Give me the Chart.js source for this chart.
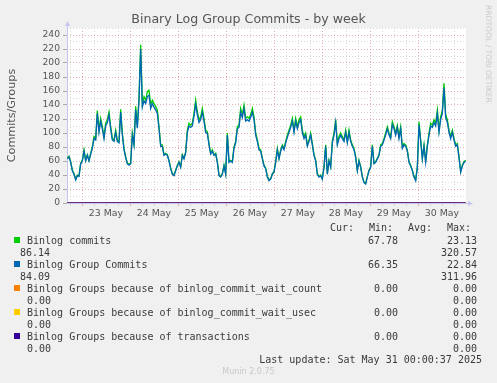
<!DOCTYPE html>
<html lang="en">
<head>
    <meta charset="UTF-8">
    <title>Binary Log Group Commits - by week</title>
    <script src="https://cdn.jsdelivr.net/npm/chart.js"></script>
    <style>
        body {
            margin: 0;
            background: #f0f0f0;
        }

        #wrap {
            position: relative;
            width: 497px;
            height: 383px;
            overflow: hidden;
            font-family: 'DejaVu Sans', sans-serif;
        }

        #chart {
            position: absolute;
            left: 0;
            top: 0;
        }

        .txt {
            position: absolute;
            white-space: pre;
            line-height: 12px;
        }

        .mono {
            font-family: 'DejaVu Sans Mono', monospace;
            font-size: 10px;
            color: #3a3a3a;
        }

        .swatch {
            position: absolute;
            width: 6px;
            height: 6px;
        }

        #title {
            left: 0;
            width: 497px;
            top: 11px;
            text-align: center;
            font-size: 12.6px;
            line-height: 16px;
            color: #555;
        }

        #rrd {
            left: 488px;
            top: 54px;
            font-size: 7.6px;
            color: #c8c8c8;
            transform: translate(-50%, -50%) rotate(90deg);
        }

        #munin {
            left: 0;
            width: 497px;
            top: 366px;
            text-align: center;
            font-size: 8px;
            color: #c8c8c8;
        }
    </style>
</head>
<body>
<div id="wrap">
    <canvas id="chart" width="497" height="383"></canvas>
    <div id="title" class="txt">Binary Log Group Commits - by week</div>
    <div id="rrd" class="txt">RRDTOOL / TOBI OETIKER</div>
    <div id="legend"></div>
    <div id="munin" class="txt">Munin 2.0.75</div>
</div>

<script>
    // x axis: hours counted from 23 May 00:00
    const dayLabels = ['23 May', '24 May', '25 May', '26 May', '27 May', '28 May', '29 May', '30 May'];
    const firstSampleHour = -7.33;
    const sampleStepHours = 50 / 60;

    // Binlog commits (green)
    const binlogCommits = [
        64, 67, 59, 47, 42, 34, 40, 39, 57, 61, 76, 61, 69, 61, 71, 80, 95, 92, 132, 104, 121, 109, 95, 114,
        119, 130, 109, 92, 90, 104, 90, 88, 134, 100, 78, 66, 57, 55, 57, 100, 85, 138, 110, 152, 226, 142, 152,
        147, 159, 161, 140, 147, 142, 138, 133, 109, 83, 83, 69, 71, 69, 61, 50, 42, 40, 47, 54, 59, 52, 69, 64,
        73, 104, 114, 111, 114, 128, 147, 130, 119, 123, 135, 121, 104, 102, 85, 71, 76, 69, 71, 59, 40, 38, 42, 54,
        42, 100, 59, 61, 59, 80, 88, 109, 111, 135, 126, 140, 121, 123, 121, 126, 135, 123, 100, 90, 78, 76, 64, 54,
        50, 38, 33, 35, 42, 45, 59, 78, 64, 76, 83, 78, 88, 97, 104, 111, 121, 104, 121, 109, 119, 123, 104, 95,
        100, 83, 90, 100, 85, 69, 61, 42, 38, 40, 35, 52, 83, 42, 61, 52, 88, 100, 119, 85, 95, 100, 95, 90,
        104, 88, 104, 90, 83, 78, 66, 47, 61, 52, 38, 30, 28, 38, 47, 52, 83, 57, 59, 64, 69, 83, 85, 92,
        100, 109, 100, 95, 116, 109, 100, 111, 95, 109, 80, 85, 83, 76, 59, 54, 47, 38, 33, 52, 116, 90, 64, 83,
        59, 83, 100, 114, 111, 119, 114, 133, 104, 123, 133, 171, 126, 119, 104, 95, 104, 92, 83, 85, 66, 45, 54, 59, 61
    ];

    // Binlog Group Commits (blue)
    const groupCommits = [
        63, 66, 58, 46, 41, 33, 39, 38, 56, 60, 74, 60, 68, 60, 70, 78, 92, 90, 128, 101, 117, 106, 92, 110,
        115, 126, 106, 90, 88, 101, 88, 86, 130, 97, 76, 65, 56, 54, 56, 97, 83, 133, 107, 146, 220, 137, 146,
        142, 152, 154, 135, 142, 137, 133, 128, 106, 81, 81, 68, 70, 68, 60, 49, 41, 39, 46, 53, 58, 51, 68, 63,
        72, 101, 110, 108, 110, 124, 141, 126, 115, 119, 130, 117, 101, 99, 83, 70, 74, 68, 70, 58, 39, 37, 41, 53,
        41, 97, 58, 60, 58, 78, 86, 106, 108, 130, 122, 135, 117, 119, 117, 122, 130, 119, 97, 88, 76, 74, 63, 53,
        49, 37, 32, 34, 41, 44, 58, 76, 63, 74, 81, 76, 86, 94, 101, 108, 117, 101, 117, 106, 115, 119, 101, 92,
        97, 81, 88, 97, 83, 68, 60, 41, 37, 39, 34, 51, 81, 41, 60, 51, 86, 97, 115, 83, 92, 97, 92, 88,
        101, 86, 101, 88, 81, 76, 65, 46, 60, 51, 37, 29, 27, 37, 46, 51, 81, 56, 58, 63, 68, 81, 83, 90,
        97, 106, 97, 92, 112, 106, 97, 108, 92, 106, 78, 83, 81, 74, 58, 53, 46, 37, 32, 51, 112, 88, 63, 81,
        58, 81, 97, 110, 108, 115, 110, 128, 101, 119, 128, 165, 122, 115, 101, 92, 101, 90, 81, 83, 65, 44, 53, 58, 60
    ];

    // the three "because of" series stay at zero all week
    const waitCount = [0, 0];
    const waitUsec = [0, 0];
    const transactions = [0, 0];

    // legend text as printed below the graph
    const legendNames = [
        'Binlog commits',
        'Binlog Group Commits',
        'Binlog Groups because of binlog_commit_wait_count',
        'Binlog Groups because of binlog_commit_wait_usec',
        'Binlog Groups because of transactions'
    ];
    const legendColors = ['#00cc00', '#0066b3', '#ff8000', '#ffcc00', '#330099'];
    const legendMid = ['67.78', '66.35', '0.00', '0.00', '0.00'];
    const legendRight = ['23.13', '22.84', '0.00', '0.00', '0.00'];
    const legendWrapLeft = ['86.14', '84.09', '0.00', '0.00', '0.00'];
    const legendWrapRight = ['320.57', '311.96', '0.00', '0.00', '0.00'];
    const lastUpdate = 'Last update: Sat May 31 00:00:37 2025';

    const toPoints = (arr) => arr.map((v, i) => ({ x: firstSampleHour + i * sampleStepHours, y: v }));
    const lastSampleHour = firstSampleHour + (binlogCommits.length - 1) * sampleStepHours;
    const flatPoints = (arr) => [{ x: firstSampleHour, y: arr[0] }, { x: lastSampleHour, y: arr[1] }];

    const majorGrid = 'rgba(220, 140, 140, 0.7)';
    const minorGrid = 'rgba(195, 195, 195, 0.65)';
    const axisColor = '#c4c4ec';

    // white plot area + munin style axis lines with arrows
    const plotFrame = {
        id: 'plotFrame',
        beforeDraw(chart) {
            const { ctx, chartArea: a } = chart;
            ctx.save();
            ctx.fillStyle = '#ffffff';
            ctx.fillRect(a.left, a.top, a.right - a.left, a.bottom - a.top);
            ctx.restore();
        },
        beforeDatasetsDraw(chart) {
            const { ctx, chartArea: a } = chart;
            ctx.save();
            ctx.strokeStyle = axisColor;
            ctx.fillStyle = axisColor;
            ctx.lineWidth = 1;
            ctx.beginPath();
            ctx.moveTo(a.left + 0.5, a.bottom);
            ctx.lineTo(a.left + 0.5, a.top - 3);
            ctx.moveTo(a.left, a.bottom + 0.5);
            ctx.lineTo(a.right + 3, a.bottom + 0.5);
            ctx.stroke();
            ctx.beginPath();
            ctx.moveTo(a.left - 2, a.top - 2);
            ctx.lineTo(a.left + 3, a.top - 2);
            ctx.lineTo(a.left + 0.5, a.top - 7);
            ctx.closePath();
            ctx.fill();
            ctx.beginPath();
            ctx.moveTo(a.right + 2, a.bottom - 2);
            ctx.lineTo(a.right + 2, a.bottom + 3);
            ctx.lineTo(a.right + 7, a.bottom + 0.5);
            ctx.closePath();
            ctx.fill();
            ctx.restore();
        }
    };

    const xTickHours = [];
    for (let h = -6; h <= 186; h += 6) xTickHours.push(h);

    const lineSet = (label, data, color, order) => ({
        label: label,
        data: data,
        borderColor: color,
        backgroundColor: color,
        borderWidth: 1.3,
        pointRadius: 0,
        tension: 0,
        fill: false,
        order: order
    });

    new Chart(document.getElementById('chart'), {
        type: 'line',
        data: {
            datasets: [
                lineSet(legendNames[0], toPoints(binlogCommits), legendColors[0], 5),
                lineSet(legendNames[1], toPoints(groupCommits), legendColors[1], 4),
                lineSet(legendNames[2], flatPoints(waitCount), legendColors[2], 3),
                lineSet(legendNames[3], flatPoints(waitUsec), legendColors[3], 2),
                lineSet(legendNames[4], flatPoints(transactions), legendColors[4], 1)
            ]
        },
        options: {
            responsive: false,
            animation: false,
            events: [],
            layout: {
                padding: { left: 0, top: 28, right: 31, bottom: 160 }
            },
            plugins: {
                legend: { display: false },
                tooltip: { enabled: false },
                title: { display: false }
            },
            scales: {
                x: {
                    type: 'linear',
                    min: -7.5,
                    max: 192,
                    afterFit: (s) => { s.height = 20; },
                    afterBuildTicks: (s) => { s.ticks = xTickHours.map((h) => ({ value: h })); },
                    grid: {
                        color: (c) => (c.tick && c.tick.value % 24 === 0 ? majorGrid : minorGrid),
                        tickColor: (c) => (c.tick && c.tick.value % 24 === 0 ? majorGrid : minorGrid),
                        tickLength: 3,
                        lineWidth: 1
                    },
                    border: { display: false, dash: [1, 2] },
                    ticks: {
                        autoSkip: false,
                        maxRotation: 0,
                        padding: 2,
                        color: '#555',
                        font: { family: 'DejaVu Sans', size: 9.4 },
                        callback: (v) => (v % 24 === 12 ? dayLabels[(v - 12) / 24] : '')
                    }
                },
                y: {
                    min: 0,
                    max: 250,
                    afterFit: (s) => { s.width = 67; },
                    grid: {
                        color: (c) => (c.tick && c.tick.value % 20 === 0 ? majorGrid : minorGrid),
                        tickColor: (c) => (c.tick && c.tick.value % 20 === 0 && c.tick.value <= 240 ? '#aaa' : 'rgba(0,0,0,0)'),
                        tickLength: 4,
                        lineWidth: 1
                    },
                    border: { display: false, dash: [1, 2] },
                    ticks: {
                        stepSize: 10,
                        autoSkip: false,
                        padding: 3,
                        color: '#555',
                        font: { family: 'DejaVu Sans', size: 9.2 },
                        callback: (v) => (v % 20 === 0 && v <= 240 ? String(v) : '')
                    },
                    title: {
                        display: true,
                        text: 'Commits/Groups',
                        color: '#555',
                        padding: { top: 5, bottom: 0 },
                        font: { family: 'DejaVu Sans', size: 11.2 }
                    }
                }
            }
        },
        plugins: [plotFrame]
    });

    // legend block, laid out like rrdtool's text legend
    const legend = document.getElementById('legend');
    function addText(text, x, midY, alignRight) {
        const d = document.createElement('div');
        d.className = 'txt mono';
        d.textContent = text;
        d.style.top = (midY - 5.5) + 'px';
        if (alignRight) {
            d.style.right = (497 - x) + 'px';
        } else {
            d.style.left = x + 'px';
        }
        legend.appendChild(d);
    }

    addText('Cur:', 330, 227.5);
    addText('Min:', 369, 227.5);
    addText('Avg:', 408, 227.5);
    addText('Max:', 447, 227.5);

    legendNames.forEach((name, i) => {
        const y = 240 + i * 24;
        const sw = document.createElement('div');
        sw.className = 'swatch';
        sw.style.left = '14px';
        sw.style.top = (y - 3) + 'px';
        sw.style.background = legendColors[i];
        legend.appendChild(sw);
        addText(name, 27, y);
        addText(legendMid[i], 398, y, true);
        addText(legendRight[i], 477, y, true);
        addText(legendWrapLeft[i], i < 2 ? 20 : 27, y + 12);
        addText(legendWrapRight[i], 477, y + 12, true);
    });

    addText(lastUpdate, 482, 359.5, true);
</script>
</body>
</html>
